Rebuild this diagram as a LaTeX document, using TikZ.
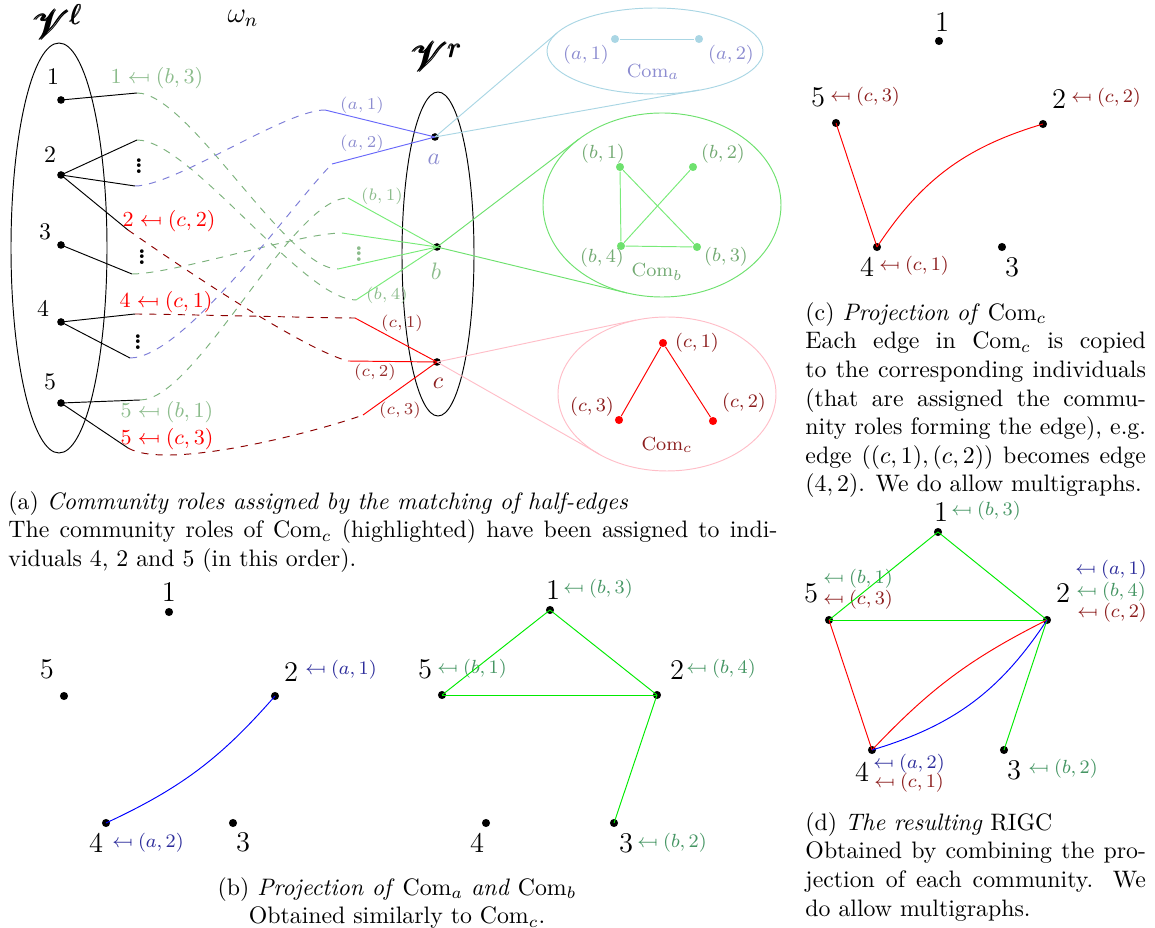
\documentclass[tikz,border=0pt]{standalone}
\usepackage{amsmath}
\usepackage{mathrsfs}
\usepackage{xcolor}
\usepackage{tikz}
\usetikzlibrary{shapes.geometric}
\definecolor{cAlab}{RGB}{140,140,208}
\definecolor{cAdash}{RGB}{125,125,215}
\definecolor{cAline}{RGB}{105,105,250}
\definecolor{cAcom}{RGB}{170,214,228}
\definecolor{cAtxt}{RGB}{45,45,155}
\definecolor{cBlab}{RGB}{140,188,140}
\definecolor{cBmid}{RGB}{115,170,115}
\definecolor{cBdash}{RGB}{125,178,125}
\definecolor{cBline}{RGB}{120,235,120}
\definecolor{cBcom}{RGB}{110,225,110}
\definecolor{cBtxt}{RGB}{70,150,100}
\definecolor{cCdash}{RGB}{140,0,0}
\definecolor{cClab}{RGB}{150,45,45}
\definecolor{cCcom}{RGB}{255,190,200}
\definecolor{cCtxt}{RGB}{140,30,30}
\definecolor{cEdge}{RGB}{0,235,0}
\newcommand{\mfrom}{\mathrel{\reflectbox{$\mapsto$}}}
\newcommand{\com}[1]{\ensuremath{\mathrm{Com}_{#1}}}
\newcommand{\vdts}{\vbox{\baselineskip=2.4pt\lineskiplimit=0pt
  \hbox{.}\hbox{.}\hbox{.}}}
\tikzset{
  vtx/.style    = {circle, fill=black, inner sep=0pt, minimum size=3.2pt},
  bigvtx/.style = {vtx, minimum size=3.4pt},
  role/.style   = {circle, inner sep=0pt, minimum size=3.4pt},
  num/.style    = {inner sep=0pt, font=\large},
  tag/.style    = {inner sep=0pt, font=\footnotesize},
  hint/.style   = {inner sep=0pt, font=\scriptsize},
  dots/.style   = {inner sep=0pt, font=\bfseries},
  assign/.style = {inner sep=0pt, font=\small},
  match/.style  = {dashed, out=0, in=180, looseness=0.5},
  capnote/.style = {inner sep=0pt, anchor=north west, align=justify,
                   text width=143pt},
}
\begin{document}
\begin{tikzpicture}[x=0.42pt, y=0.42pt]
  \useasboundingbox (0,0) rectangle (1155,-928);
  % (a) the two sides of the bipartite graph
  \node (Vl) at (58,-22) {\LARGE$\pmb{\mathscr{V}}^{\pmb{\ell}}$};
  \node (wn) at (243,-18) {\large$\omega_n$};
  \node (Vr) at (437,-57) {\LARGE$\pmb{\mathscr{V}}^{\pmb{r}}$};
  \draw (59,-248) ellipse [x radius=48, y radius=205];
  \draw (438,-254) ellipse [x radius=36, y radius=162];
  \node[vtx] (l1) at (61,-100) {};
  \node[vtx] (l2) at (61,-175) {};
  \node[vtx] (l3) at (61,-245) {};
  \node[vtx] (l4) at (61,-322) {};
  \node[vtx] (l5) at (61,-403) {};
  \node (l1n) at (53,-77) {1};
  \node (l2n) at (50,-155) {2};
  \node (l3n) at (45,-232) {3};
  \node (l4n) at (43,-308) {4};
  \node (l5n) at (50,-382) {5};
  \node[vtx] (a) at (435,-137) {};
  \node[vtx] (b) at (437,-247) {};
  \node[vtx] (c) at (437,-362) {};
  \node[text=cAlab] (at) at (434,-159) {$a$};
  \node[text=cBlab] (bt) at (436,-271) {$b$};
  \node[text=cCtxt] (ct) at (438,-383) {$c$};
  % half-edges of the individuals
  \coordinate (h1) at (137,-93);
  \coordinate (h2a) at (137,-140);
  \coordinate (h2b) at (135,-186);
  \coordinate (h2c) at (128,-230);
  \coordinate (h3) at (132,-274);
  \coordinate (h4a) at (135,-314);
  \coordinate (h4b) at (130,-358);
  \coordinate (h5a) at (140,-400);
  \coordinate (h5b) at (128,-448);
  \draw (l1.center) -- (h1);
  \draw (l2.center) -- (h2a);
  \draw (l2.center) -- (h2b);
  \draw (l2.center) -- (h2c);
  \draw (l3.center) -- (h3);
  \draw (l4.center) -- (h4a);
  \draw (l4.center) -- (h4b);
  \draw (l5.center) -- (h5a);
  \draw (l5.center) -- (h5b);
  \node[dots] (d2) at (139,-166) {\vdts};
  \node[dots] (d3) at (142,-257) {\vdts};
  \node[dots] (d4) at (138,-342) {\vdts};
  % half-edges of the communities
  \coordinate (ka1) at (325,-110);
  \coordinate (ka2) at (332,-164);
  \coordinate (kb1) at (348,-198);
  \coordinate (kb2) at (342,-233);
  \coordinate (kb3) at (338,-269);
  \coordinate (kb4) at (356,-300);
  \coordinate (kc1) at (355,-318);
  \coordinate (kc2) at (348,-361);
  \coordinate (kc3) at (363,-415);
  \draw[cAline] (ka1) -- (a.center);
  \draw[cAline] (ka2) -- (a.center);
  \draw[cBline] (kb1) -- (b.center);
  \draw[cBline] (kb2) -- (b.center);
  \draw[cBline] (kb3) -- (b.center);
  \draw[cBline] (kb4) -- (b.center);
  \draw[red] (kc1) -- (c.center);
  \draw[red] (kc2) -- (c.center);
  \draw[red] (kc3) -- (c.center);
  \node[dots, text=cBlab] (db) at (359,-254) {\vdts};
  \node[hint, text=cAlab] (ka1t) at (362,-105) {$(a,1)$};
  \node[hint, text=cAlab] (ka2t) at (362,-143) {$(a,2)$};
  \node[hint, text=cBlab] (kb1t) at (382,-196) {$(b,1)$};
  \node[hint, text=cBlab] (kb4t) at (387,-295) {$(b,4)$};
  \node[hint, text=cClab] (kc1t) at (402,-323) {$(c,1)$};
  \node[hint, text=cClab] (kc2t) at (375,-372) {$(c,2)$};
  \node[hint, text=cClab] (kc3t) at (400,-410) {$(c,3)$};
  % the matching
  \draw[match, cBdash] (h1) to (kb3);
  \draw[match, cBdash] (h2a) to (kb4);
  \draw[match, cBdash] (h3) to (kb2);
  \draw[match, cBdash] (h5a) to (kb1);
  \draw[match, cAdash] (h2b) to (ka1);
  \draw[match, cAdash, in=225] (h4b) to (ka2);
  \draw[match, cCdash, out=-35, in=165] (h2c) to (kc2);
  \draw[match, cCdash, looseness=0.3] (h4a) to (kc1);
  \draw[match, cCdash, out=-30, in=200] (h5b) to (kc3);
  \node[assign, text=cBlab] (s1) at (157,-78) {$1\mfrom(b,3)$};
  \node[assign, text=red] (s2) at (169,-221) {$2\mfrom(c,2)$};
  \node[assign, text=red] (s4) at (166,-302) {$4\mfrom(c,1)$};
  \node[assign, text=cBlab] (s5b) at (167,-412) {$5\mfrom(b,1)$};
  \node[assign, text=red] (s5c) at (167,-439) {$5\mfrom(c,3)$};
  % community graphs
  \draw[cAcom] (655,-51) ellipse [x radius=108, y radius=43];
  \coordinate (ta1) at (557,-33);
  \coordinate (ta2) at (699,-90);
  \draw[cAcom] (a.center) -- (ta1);
  \draw[cAcom] (a.center) -- (ta2);
  \node[role, fill=cAcom] (a1) at (615,-39) {};
  \node[role, fill=cAcom] (a2) at (699,-39) {};
  \draw[cAcom] (a1) -- (a2);
  \node[tag, text=cAlab] (a1t) at (586,-55) {$(a,1)$};
  \node[tag, text=cAlab] (a2t) at (731,-55) {$(a,2)$};
  \node[tag, text=cAlab] (comA) at (653,-72) {\com{a}};
  \draw[cBcom] (662,-205) ellipse [x radius=119, y radius=92];
  \coordinate (tb1) at (579,-139);
  \coordinate (tb2) at (627,-293);
  \draw[cBcom] (b.center) -- (tb1);
  \draw[cBcom] (b.center) -- (tb2);
  \node[role, fill=cBcom] (b1) at (620,-167) {};
  \node[role, fill=cBcom] (b2) at (693,-167) {};
  \node[role, fill=cBcom] (b3) at (697,-247) {};
  \node[role, fill=cBcom] (b4) at (621,-246) {};
  \draw[cBline] (b1) -- (b4);
  \draw[cBline] (b1) -- (b3);
  \draw[cBline] (b2) -- (b4);
  \draw[cBline] (b4) -- (b3);
  \node[tag, text=cBmid] (b1t) at (603,-154) {$(b,1)$};
  \node[tag, text=cBmid] (b2t) at (723,-154) {$(b,2)$};
  \node[tag, text=cBmid] (b3t) at (726,-257) {$(b,3)$};
  \node[tag, text=cBmid] (b4t) at (602,-258) {$(b,4)$};
  \node[tag, text=cBmid] (comB) at (657,-272) {\com{b}};
  \draw[cCcom] (667,-394) ellipse [x radius=109, y radius=77];
  \coordinate (tc1) at (636,-320);
  \coordinate (tc2) at (599,-454);
  \draw[cCcom] (c.center) -- (tc1);
  \draw[cCcom] (c.center) -- (tc2);
  \node[role, fill=red] (c1) at (663,-343) {};
  \node[role, fill=red] (c2) at (713,-421) {};
  \node[role, fill=red] (c3) at (619,-420) {};
  \draw[red] (c1) -- (c3);
  \draw[red] (c1) -- (c2);
  \node[tag, text=cCtxt] (c1t) at (697,-343) {$(c,1)$};
  \node[tag, text=cCtxt] (c2t) at (744,-403) {$(c,2)$};
  \node[tag, text=cCtxt] (c3t) at (592,-407) {$(c,3)$};
  \node[tag, text=cCtxt] (comC) at (667,-445) {\com{c}};
  \node[capnote, text width=323pt] (capa) at (8,-491)
    {\noindent(a) \textit{Community roles assigned by the matching of half-edges}\\
     The community roles of \com{c} (highlighted) have been assigned to
     indi-\linebreak viduals 4, 2 and 5 (in this order).};
  % (b) projection of Com_a
  \node[bigvtx] (pa1) at (169,-612) {};
  \node[bigvtx] (pa2) at (275,-696) {};
  \node[bigvtx] (pa3) at (233,-823) {};
  \node[bigvtx] (pa4) at (106,-823) {};
  \node[bigvtx] (pa5) at (64,-696) {};
  \node[num] (pa1n) at (169,-592) {1};
  \node[num] (pa2n) at (291,-672) {2};
  \node[num] (pa3n) at (243,-842) {3};
  \node[num] (pa4n) at (96,-843) {4};
  \node[num] (pa5n) at (47,-669) {5};
  \node[tag, text=cAtxt] (pa2t) at (341,-670) {$\mfrom(a,1)$};
  \node[tag, text=cAtxt] (pa4t) at (148,-843) {$\mfrom(a,2)$};
  \draw[blue] (pa4.center) to[bend right=12] (pa2.center);
  % (b) projection of Com_b
  \node[bigvtx] (pb1) at (550,-610) {};
  \node[bigvtx] (pb2) at (657,-695) {};
  \node[bigvtx] (pb3) at (614,-823) {};
  \node[bigvtx] (pb4) at (486,-823) {};
  \node[bigvtx] (pb5) at (442,-695) {};
  \node[num] (pb1n) at (553,-590) {1};
  \node[num] (pb2n) at (677,-670) {2};
  \node[num] (pb3n) at (626,-843) {3};
  \node[num] (pb4n) at (477,-843) {4};
  \node[num] (pb5n) at (425,-669) {5};
  \node[tag, text=cBtxt] (pb1t) at (598,-589) {$\mfrom(b,3)$};
  \node[tag, text=cBtxt] (pb2t) at (721,-669) {$\mfrom(b,4)$};
  \node[tag, text=cBtxt] (pb3t) at (672,-843) {$\mfrom(b,2)$};
  \node[tag, text=cBtxt] (pb5t) at (472,-669) {$\mfrom(b,1)$};
  \draw[cEdge] (pb5.center) -- (pb1.center);
  \draw[cEdge] (pb1.center) -- (pb2.center);
  \draw[cEdge] (pb5.center) -- (pb2.center);
  \draw[cEdge] (pb2.center) -- (pb3.center);
  \node[inner sep=0pt, align=center, anchor=north] (capb) at (397,-877)
    {(b) \textit{Projection of} \com{a} \textit{and} \com{b}\\
     Obtained similarly to \com{c}.};
  % (c) projection of Com_c
  \node[bigvtx] (pc1) at (939,-41) {};
  \node[bigvtx] (pc2) at (1043,-124) {};
  \node[bigvtx] (pc3) at (1002,-247) {};
  \node[bigvtx] (pc4) at (877,-247) {};
  \node[bigvtx] (pc5) at (836,-123) {};
  \node[num] (pc1n) at (942,-22) {1};
  \node[num] (pc2n) at (1059,-99) {2};
  \node[num] (pc3n) at (1012,-267) {3};
  \node[num] (pc4n) at (867,-267) {4};
  \node[num] (pc5n) at (818,-97) {5};
  \node[tag, text=cCtxt] (pc2t) at (1106,-98) {$\mfrom(c,2)$};
  \node[tag, text=cCtxt] (pc4t) at (914,-266) {$\mfrom(c,1)$};
  \node[tag, text=cCtxt] (pc5t) at (865,-97) {$\mfrom(c,3)$};
  \draw[red] (pc5.center) -- (pc4.center);
  \draw[red] (pc4.center) to[bend left=20] (pc2.center);
  \node[capnote] (capc) at (805,-302)
    {\noindent(c) \textit{Projection of} \com{c}\\
     Each edge in \com{c} is copied\linebreak to the corresponding
     individuals\linebreak (that are assigned the commu-\linebreak nity
     roles forming the edge), e.g.\linebreak edge $((c,1),(c,2))$ becomes
     edge\linebreak $(4,2)$. We do allow multigraphs.};
  % (d) the resulting graph
  \node[bigvtx] (pd1) at (938,-532) {};
  \node[bigvtx] (pd2) at (1047,-620) {};
  \node[bigvtx] (pd3) at (1004,-750) {};
  \node[bigvtx] (pd4) at (872,-750) {};
  \node[bigvtx] (pd5) at (829,-620) {};
  \node[num] (pd1n) at (941,-512) {1};
  \node[num] (pd2n) at (1063,-593) {2};
  \node[num] (pd3n) at (1014,-770) {3};
  \node[num] (pd4n) at (862,-772) {4};
  \node[num] (pd5n) at (811,-593) {5};
  \node[tag, text=cBtxt] (pd1t) at (986,-511) {$\mfrom(b,3)$};
  \node[tag, text=cAtxt] (pd2a) at (1111,-570) {$\mfrom(a,1)$};
  \node[tag, text=cBtxt] (pd2b) at (1111,-592) {$\mfrom(b,4)$};
  \node[tag, text=cCtxt] (pd2c) at (1112,-613) {$\mfrom(c,2)$};
  \node[tag, text=cBtxt] (pd3t) at (1063,-769) {$\mfrom(b,2)$};
  \node[tag, text=cAtxt] (pd4a) at (909,-764) {$\mfrom(a,2)$};
  \node[tag, text=cCtxt] (pd4c) at (909,-783) {$\mfrom(c,1)$};
  \node[tag, text=cBtxt] (pd5b) at (858,-579) {$\mfrom(b,1)$};
  \node[tag, text=cCtxt] (pd5c) at (858,-600) {$\mfrom(c,3)$};
  \draw[cEdge] (pd5.center) -- (pd1.center);
  \draw[cEdge] (pd1.center) -- (pd2.center);
  \draw[cEdge] (pd5.center) -- (pd2.center);
  \draw[cEdge] (pd2.center) -- (pd3.center);
  \draw[red] (pd5.center) -- (pd4.center);
  \draw[red] (pd4.center) to[bend left=10] (pd2.center);
  \draw[blue] (pd4.center) to[bend right=20] (pd2.center);
  \node[capnote] (capd) at (805,-812)
    {\noindent(d) \textit{The resulting} RIGC\\
     Obtained by combining the pro-\linebreak jection of each community.
     We\linebreak do allow multigraphs.};
\end{tikzpicture}
\end{document}
